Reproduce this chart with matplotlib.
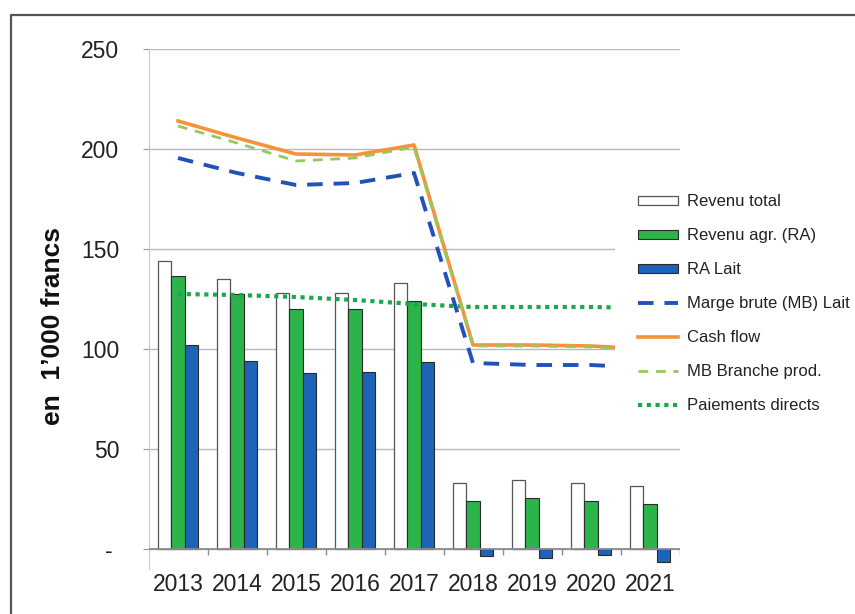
import numpy as np
import matplotlib.pyplot as plt
from matplotlib import font_manager
from matplotlib.lines import Line2D

# données (en 1'000 francs)
annees = ['2013', '2014', '2015', '2016', '2017', '2018', '2019', '2020', '2021']
revenu_total = [144, 135, 128, 128, 133, 33, 34.5, 33, 31.5]
revenu_agr = [136.5, 127.5, 120, 120, 124, 24, 25.5, 24, 22.5]
ra_lait = [102, 94, 88, 88.5, 93.5, -3.5, -4.5, -3, -6.5]
mb_lait = [195.5, 188, 182, 183, 188, 93, 92, 92, 90.5]
cash_flow = [214, 205.5, 197.5, 197, 202, 102, 102, 101.5, 100]
mb_branche = [211.5, 203, 194, 195.5, 201, 101.5, 101.5, 101, 99]
paiements = [127.5, 127, 126, 124.5, 122.5, 121, 121, 121, 120.5]

y_ticks = [0, 50, 100, 150, 200, 250]
y_labels = ['- ', '50', '100', '150', '200', '250']

# police étroite si disponible, sinon Liberation Sans plus petite
dispo = {f.name for f in font_manager.fontManager.ttflist}
if 'Liberation Sans Narrow' in dispo:
    tick_font, tick_size = 'Liberation Sans Narrow', 19
else:
    tick_font, tick_size = 'Liberation Sans', 16.5

fig = plt.figure(figsize=(8.55, 6.14), dpi=100)
ax = fig.add_axes([148.5 / 855, 45 / 614, 531 / 855, 520 / 614])

x = np.arange(len(annees))
w = 0.229
b1 = ax.bar(x - w, revenu_total, w, color='white', edgecolor='#555555', lw=0.9, zorder=2)
b2 = ax.bar(x, revenu_agr, w, color='#2cb34a', edgecolor='#2a2a2a', lw=0.8, zorder=2)
b3 = ax.bar(x + w, ra_lait, w, color='#1d63b8', edgecolor='#2a2a2a', lw=0.8, zorder=2)

l_pd, = ax.plot(x, paiements, color='#19a84a', lw=3.0, linestyle=(0, (1, 1.1)), zorder=4)
l_mbl, = ax.plot(x, mb_lait, color='#2152b8', lw=2.8, dashes=(4, 2.8), zorder=4)
l_cf, = ax.plot(x, cash_flow, color='#f7923a', lw=2.6, zorder=4)
l_mbb, = ax.plot(x, mb_branche, color='#95c85e', lw=2.0, dashes=(3.5, 2.8), zorder=5)

ax.set_xlim(-0.5, len(annees) - 0.5)
ax.set_ylim(-10, 250)

# axes et grille
ax.set_yticks(y_ticks)
ax.set_yticklabels(y_labels)
ax.yaxis.grid(True, color='#b9b9b9', lw=1)
ax.set_axisbelow(True)
ax.axhline(0, color='#8c8c8c', lw=1.3, zorder=3)
ax.vlines(np.arange(1, len(annees) + 1) - 0.5, -2.8, 0, color='#8c8c8c', lw=1, zorder=3)

for s in ['top', 'right', 'bottom']:
    ax.spines[s].set_visible(False)
ax.spines['left'].set_color('#c8c8c8')

ax.set_xticks(x)
ax.set_xticklabels(annees)
ax.tick_params(axis='x', length=0, pad=3, labelsize=tick_size, labelcolor='#222222')
ax.tick_params(axis='y', length=4, color='#999999', pad=17, labelsize=tick_size, labelcolor='#222222')
for t in ax.get_xticklabels() + ax.get_yticklabels():
    t.set_fontfamily(tick_font)

fig.text(53 / 855, 1 - 326 / 614, 'en  1\u2019000 francs', rotation=90, ha='center', va='center',
         fontsize=19, fontweight='bold', family='Liberation Sans', color='#111111')

# légende
handles = [b1, b2, b3, l_mbl, l_cf, l_mbb, l_pd]
labels = ['Revenu total', 'Revenu agr. (RA)', 'RA Lait', 'Marge brute (MB) Lait',
          'Cash flow', 'MB Branche prod.', 'Paiements directs']
leg = ax.legend(handles, labels, loc='upper left', bbox_to_anchor=(615 / 855, 1 - 171 / 614),
                bbox_transform=fig.transFigure, frameon=True, fancybox=False, facecolor='white',
                edgecolor='none', framealpha=1, borderpad=1.4, borderaxespad=0,
                handlelength=2.35, handletextpad=0.55, labelspacing=1.14, handleheight=0.5,
                prop={'family': 'Liberation Sans', 'size': 12})
leg.set_zorder(10)
for t in leg.get_texts():
    t.set_color('#222222')

# cadre
fig.add_artist(Line2D([11 / 855, 11 / 855, 1], [0, 1 - 15 / 614, 1 - 15 / 614],
                      transform=fig.transFigure, color='#555555', lw=1.6))

fig.savefig('out.png', dpi=100)
